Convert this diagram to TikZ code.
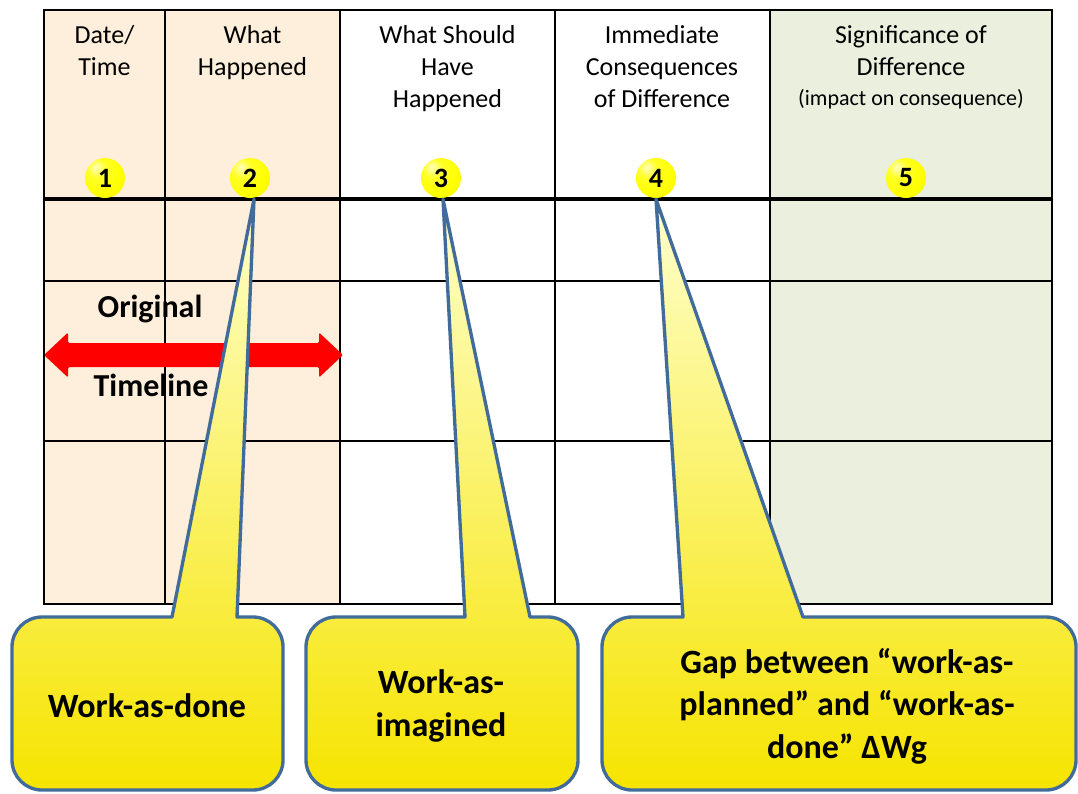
\documentclass[tikz,border=0pt]{standalone}
\usepackage{fontspec}
\setmainfont{Carlito}
\usetikzlibrary{calc}
\definecolor{peach}{RGB}{253,239,219}
\definecolor{sage}{RGB}{235,239,222}
\definecolor{cborder}{RGB}{65,107,155}
\definecolor{ypale}{RGB}{255,255,205}
\definecolor{ydeep}{RGB}{246,228,0}
\definecolor{arrowred}{RGB}{255,0,0}
\pgfdeclareradialshading{yball}{\pgfpoint{-12bp}{14bp}}{%
  color(0bp)=(yellow!25!white); color(12bp)=(yellow!85!white); color(28bp)=(yellow);
  color(52bp)=(yellow!93!black); color(64bp)=(yellow!72!black); color(80bp)=(yellow!65!black)}
\newcommand\mycallout[5]{% tip, tailL, tailR, L, R
  \draw[calloutline] (#1) -- (#3,-617) -- ({#5-30},-617)
    arc[start angle=90,end angle=0,radius=22.5pt] -- (#5,-760)
    arc[start angle=0,end angle=-90,radius=22.5pt] -- ({#4+30},-790)
    arc[start angle=270,end angle=180,radius=22.5pt] -- (#4,-647)
    arc[start angle=180,end angle=90,radius=22.5pt] -- (#2,-617) -- cycle;}
\begin{document}
\begin{tikzpicture}[x=0.75pt,y=0.75pt,
  grid/.style={black,line width=2.2pt},
  head/.style={align=center,anchor=north,font=\fontsize{19.5}{24}\selectfont},
  ball/.style={circle,minimum size=30pt,inner sep=0pt,shading=yball,
     font=\bfseries\fontsize{21}{21}\selectfont},
  calloutline/.style={draw=cborder,line width=2.5pt,line join=round,top color=ypale,bottom color=ydeep},
  ctext/.style={align=center,font=\bfseries\fontsize{25.5}{32}\selectfont},
  tl/.style={font=\bfseries\fontsize{24}{24}\selectfont}]
\useasboundingbox (0,0) rectangle (1078,-793);
% column fills
\fill[peach] (44,-10) rectangle (340,-604);
\fill[sage] (770,-10) rectangle (1052,-604);
% timeline labels
\node[tl] (orig) at (150,-309) {Original};
\node[tl] (tline) at (151,-385) {Timeline};
% grid
\draw[grid] (44,-10) rectangle (1052,-604);
\foreach \xx in {165,340,555,770} \draw[grid] (\xx,-10) -- (\xx,-604);
\draw[black,line width=3pt] (44,-199) -- (1052,-199);
\foreach \yy in {281,441} \draw[grid] (44,-\yy) -- (1052,-\yy);
% headers
\node[head] (h1) at (104.5,-21) {Date/\\Time};
\node[head] (h2) at (252.5,-21) {What\\Happened};
\node[head] (h3) at (447.5,-21) {What Should\\Have\\Happened};
\node[head] (h4) at (662,-21) {Immediate\\Consequences\\of Difference};
\node[head] (h5) at (911,-21) {Significance of\\Difference\\[-2pt]{\fontsize{16.5}{20}\selectfont(impact on consequence)}};
% balls
\node[ball] (b1) at (105,-178) {1};
\node[ball] (b2) at (250,-178) {2};
\node[ball] (b3) at (441,-178) {3};
\node[ball] (b4) at (656,-178) {4};
\node[ball] (b5) at (906,-178) {5};
% red double arrow
\fill[arrowred,rounded corners=1pt] (44,-355) -- (68,-332.5) -- (68,-343) -- (319,-343) -- (319,-332.5)
  -- (343,-355) -- (319,-377.5) -- (319,-367) -- (68,-367) -- (68,-377.5) -- cycle;
% callouts
\mycallout{$(b2.south)+(4,-1)$}{172}{237}{12}{283}
\mycallout{$(b3.south)+(2,-1)$}{465}{530}{306}{578}
\mycallout{$(b4.south)+(0,-1)$}{683}{803}{602}{1076}
\node[ctext] (c1) at (147,-706) {Work-as-done};
\node[ctext] (c2) at (441,-706) {Work-as-\\imagined};
\node[ctext] (c3) at (847,-706) {Gap between “work-as-\\planned” and “work-as-\\done” ΔWg};
\end{tikzpicture}
\end{document}
